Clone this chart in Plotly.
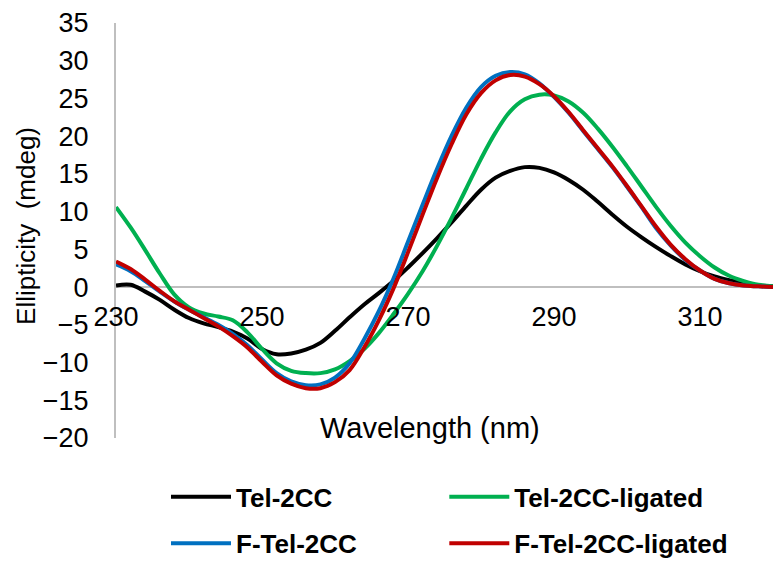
import plotly.graph_objects as go

# CD spectra, wavelength in nm, ellipticity in mdeg
wavelength = list(range(230, 322, 2))

tel_2cc = [0.2, 0.3, -0.6, -1.7, -3.0, -4.1, -4.8, -5.3, -5.9, -6.8,
           -8.2, -8.9, -8.8, -8.3, -7.4, -5.8, -4.0, -2.3, -0.8, 0.8,
           2.6, 4.5, 6.5, 8.6, 10.8, 12.9, 14.5, 15.4, 15.9, 15.8,
           15.2, 14.2, 12.9, 11.3, 9.6, 8.0, 6.6, 5.3, 4.1, 3.0,
           2.1, 1.4, 0.9, 0.5, 0.2, 0.1]

tel_2cc_ligated = [10.6, 7.9, 4.9, 1.8, -1.0, -2.7, -3.5, -3.9, -4.4, -6.0,
                   -8.2, -10.1, -11.1, -11.4, -11.4, -10.9, -9.8, -8.2, -6.1, -3.6,
                   -0.9, 2.1, 5.5, 9.2, 13.1, 17.0, 20.5, 23.3, 24.9, 25.5,
                   25.4, 24.6, 23.1, 21.0, 18.6, 16.0, 13.3, 10.6, 8.1, 5.9,
                   4.1, 2.6, 1.5, 0.8, 0.3, 0.1]

f_tel_2cc = [3.0, 2.1, 0.8, -0.6, -1.9, -3.0, -4.0, -5.0, -6.2, -7.7,
             -9.6, -11.4, -12.5, -13.0, -12.9, -12.0, -10.1, -6.9, -3.2, 1.1,
             6.0, 10.9, 15.7, 20.1, 23.8, 26.5, 28.0, 28.5, 28.2, 27.0,
             25.2, 23.1, 20.7, 18.3, 15.9, 13.3, 10.6, 7.8, 5.5, 3.6,
             2.2, 1.1, 0.5, 0.2, 0.1, 0.0]

f_tel_2cc_ligated = [3.4, 2.4, 1.0, -0.5, -1.9, -3.0, -4.1, -5.2, -6.5, -8.0,
                     -9.9, -11.7, -12.8, -13.4, -13.4, -12.6, -11.0, -8.0, -4.4, -0.2,
                     4.6, 9.6, 14.5, 19.0, 22.9, 25.7, 27.4, 28.1, 27.9, 26.9,
                     25.3, 23.2, 20.8, 18.4, 16.0, 13.4, 10.7, 8.0, 5.6, 3.7,
                     2.2, 1.1, 0.5, 0.2, 0.1, 0.0]

series = [
    ("Tel-2CC", tel_2cc, "#000000", "legend"),
    ("Tel-2CC-ligated", tel_2cc_ligated, "#00B050", "legend2"),
    ("F-Tel-2CC", f_tel_2cc, "#0070C0", "legend3"),
    ("F-Tel-2CC-ligated", f_tel_2cc_ligated, "#C00000", "legend4"),
]

x_ticks = [230, 250, 270, 290, 310]
y_min, y_max = -20, 35

FONT = "Liberation Sans, Arial, sans-serif"

fig = go.Figure()
for name, values, color, leg in series:
    fig.add_trace(go.Scatter(
        x=wavelength, y=values, name=name, mode="lines",
        line=dict(color=color, width=4, shape="spline", smoothing=1),
        legend=leg, showlegend=True,
    ))

legend_font = dict(family=FONT, size=26, color="#000000", weight="bold")
legend_common = dict(font=legend_font, itemwidth=60, bgcolor="rgba(0,0,0,0)",
                     xanchor="left", yanchor="middle", orientation="h",
                     visible=True)

fig.update_layout(
    width=773, height=561,
    showlegend=True,
    margin=dict(l=116, r=0, t=23, b=123, autoexpand=False),
    paper_bgcolor="white", plot_bgcolor="white",
    font=dict(family=FONT, color="#000000"),
    xaxis=dict(
        range=[230, 320], tickvals=x_ticks, showgrid=False, zeroline=False,
        showline=False, ticks="", anchor="free",
        position=(0 - y_min) / (y_max - y_min),
        tickfont=dict(family=FONT, size=27, color="#000000"),
        ticklabelstandoff=11,
    ),
    yaxis=dict(
        range=[y_min, y_max], dtick=5, showgrid=False,
        zeroline=True, zerolinecolor="#BFBFBF", zerolinewidth=2,
        showline=True, linecolor="#BFBFBF", linewidth=2, ticks="",
        tickfont=dict(family=FONT, size=27, color="#000000"),
        ticklabelstandoff=20,
    ),
    legend=dict(x=0.0761, y=-0.142, **legend_common),
    legend2=dict(x=0.4997, y=-0.142, **legend_common),
    legend3=dict(x=0.0761, y=-0.254, **legend_common),
    legend4=dict(x=0.4997, y=-0.254, **legend_common),
    annotations=[
        dict(text="Wavelength (nm)", xref="paper", yref="paper",
             x=0.478, y=0.025, xanchor="center", yanchor="middle",
             showarrow=False, font=dict(family=FONT, size=29, color="#000000")),
        dict(text="Ellipticity\u00a0 (mdeg)", xref="paper", yref="paper",
             x=-0.137, y=0.511, xanchor="center", yanchor="middle",
             textangle=-90, showarrow=False,
             font=dict(family=FONT, size=26, color="#000000")),
    ],
)

fig.write_html("out.html")
